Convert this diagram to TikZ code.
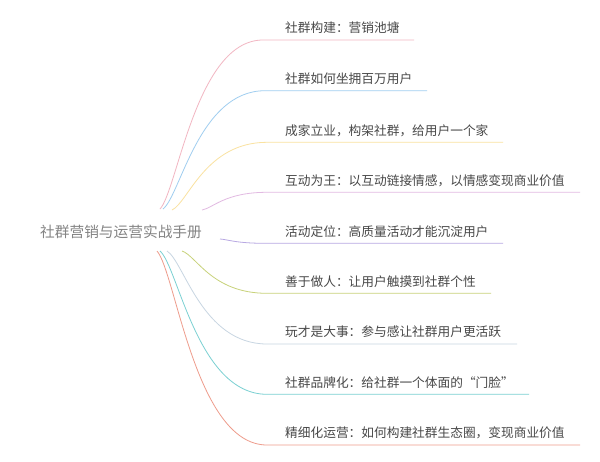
\documentclass[tikz,border=0pt]{standalone}
\usepackage{fontspec}
\setmainfont{Noto Sans CJK SC}
\usetikzlibrary{calc}
\definecolor{c1}{RGB}{242,182,194}
\definecolor{c2}{RGB}{160,206,240}
\definecolor{c3}{RGB}{250,226,160}
\definecolor{c4}{RGB}{226,186,226}
\definecolor{c5}{RGB}{184,168,226}
\definecolor{c6}{RGB}{200,210,122}
\definecolor{c7}{RGB}{200,214,226}
\definecolor{c8}{RGB}{122,208,210}
\definecolor{c9}{RGB}{238,156,140}
\definecolor{roottxt}{RGB}{132,132,132}
\definecolor{leaftxt}{RGB}{72,72,72}
\tikzset{
  leaf/.style={anchor=west,inner sep=0pt,text=leaftxt,font=\fontsize{12.7}{14}\selectfont},
  rootnode/.style={inner sep=0pt,text=roottxt,font=\fontsize{14.7}{16}\selectfont},
  branch/.style={line width=0.8pt}
}
\begin{document}
\begin{tikzpicture}[x=1pt,y=-1pt]
\useasboundingbox[fill=white] (0,0) rectangle (600,461);
\node[rootnode] (root) at (121,231.7) {社群营销与运营实战手册};
% start points, knee points, end points
\coordinate (s1) at (160,209);   \coordinate (k1) at (263,40);    \coordinate (e1) at (414,40);
\coordinate (s2) at (163,209);   \coordinate (k2) at (265,90.7);  \coordinate (e2) at (427,90.7);
\coordinate (s3) at (172,210);   \coordinate (k3) at (267,142.3); \coordinate (e3) at (503,142.3);
\coordinate (s4) at (202,210);   \coordinate (k4) at (267,192.3); \coordinate (e4) at (580,192.3);
\coordinate (s5) at (220,239);   \coordinate (k5) at (265,243.3); \coordinate (e5) at (503,243.3);
\coordinate (s6) at (182,251);   \coordinate (k6) at (267,293.3); \coordinate (e6) at (491,293.3);
\coordinate (s7) at (167,251);   \coordinate (k7) at (267,344);   \coordinate (e7) at (517,344);
\coordinate (s8) at (160,251);   \coordinate (k8) at (267,394.3); \coordinate (e8) at (529,394.3);
\coordinate (s9) at (157,251);   \coordinate (k9) at (267,445);   \coordinate (e9) at (580,445);
\foreach \i in {1,...,9}{
  \draw[branch,color=c\i] let \p0=(s\i), \p3=(k\i) in
    (s\i) .. controls (\x0+0.17*\x3-0.17*\x0, \y0+0.11*\y3-0.11*\y0)
          and (\x0+0.35*\x3-0.35*\x0, \y3) .. (k\i) -- (e\i);
}
\node[leaf] (t1) at (285,28)    {社群构建：营销池塘};
\node[leaf] (t2) at (285,78.7)  {社群如何坐拥百万用户};
\node[leaf] (t3) at (285,130.3) {成家立业，构架社群，给用户一个家};
\node[leaf] (t4) at (285,180.3) {互动为王：以互动链接情感，以情感变现商业价值};
\node[leaf] (t5) at (285,231.3) {活动定位：高质量活动才能沉淀用户};
\node[leaf] (t6) at (285,281.3) {善于做人：让用户触摸到社群个性};
\node[leaf] (t7) at (285,332)   {玩才是大事：参与感让社群用户更活跃};
\node[leaf] (t8) at (285,382.3) {社群品牌化：给社群一个体面的“门脸”};
\node[leaf] (t9) at (285,433)   {精细化运营：如何构建社群生态圈，变现商业价值};
\end{tikzpicture}
\end{document}
